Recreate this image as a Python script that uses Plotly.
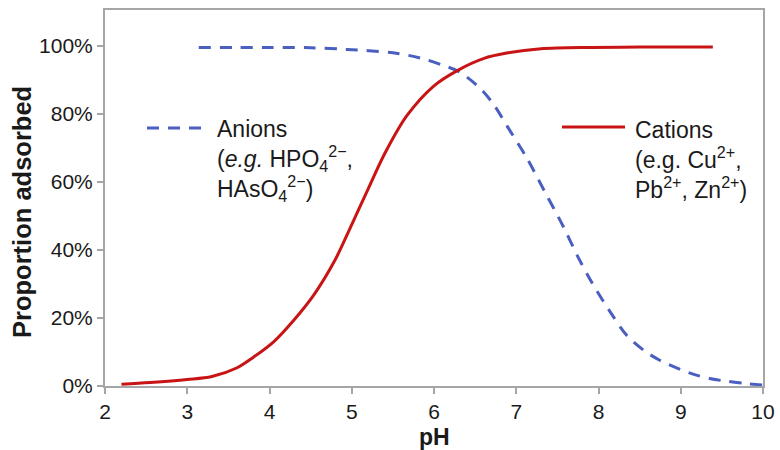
import plotly.graph_objects as go

# Data
cation_ph = [2.2, 2.55, 3.0, 3.3, 3.6, 3.8, 4.05, 4.3, 4.55, 4.8, 5.0, 5.2, 5.4,
             5.67, 6.0, 6.3, 6.6, 6.9, 7.3, 7.9, 8.5, 9.39]
cation_pct = [0.5, 1.0, 1.9, 2.8, 5.3, 8.4, 13.0, 19.5, 27.2, 37.2, 47.5, 58, 68.3,
              79.5, 88.3, 93, 96.3, 98, 99.2, 99.6, 99.7, 99.7]

anion_ph = [3.14, 3.6, 4.0, 4.5, 4.94, 5.5, 5.83, 6.1, 6.3, 6.56, 6.72, 6.9,
            7.13, 7.35, 7.57, 7.75, 7.93, 8.15, 8.34, 8.55, 8.75, 9.0, 9.15,
            9.35, 9.56, 9.8, 10.0]
anion_pct = [99.6, 99.6, 99.6, 99.5, 99.0, 98.0, 96.5, 94.4, 92.5, 87.6, 83,
             76, 67, 57, 47, 38, 30, 21.5, 15, 10.5, 7.5, 4.8, 3.5,
             2.2, 1.4, 0.7, 0.3]

x_ticks = [2, 3, 4, 5, 6, 7, 8, 9, 10]
y_ticks = [0, 20, 40, 60, 80, 100]
y_tick_labels = ["0%", "20%", "40%", "60%", "80%", "100%"]

anion_label = ["Anions", "(<i>e.g.</i> HPO<sub>4</sub><sup>2−</sup>,",
               "HAsO<sub>4</sub><sup>2−</sup>)"]
cation_label = ["Cations", "(e.g. Cu<sup>2+</sup>,",
                "Pb<sup>2+</sup>, Zn<sup>2+</sup>)"]

BLUE = "#4a5fbf"
RED = "#c81414"
GRAY = "#a6a6a6"
FONT = "Liberation Sans, Arial, sans-serif"

fig = go.Figure()
fig.add_trace(go.Scatter(x=anion_ph, y=anion_pct, mode="lines",
                         line=dict(color=BLUE, width=3, dash="12px,9px",
                                   shape="spline", smoothing=0.9),
                         showlegend=False, hoverinfo="skip"))
fig.add_trace(go.Scatter(x=cation_ph, y=cation_pct, mode="lines",
                         line=dict(color=RED, width=3, shape="spline",
                                   smoothing=0.9),
                         showlegend=False, hoverinfo="skip"))

L, R, T, B = 105, 17, 10, 64
W, H = 780, 450
pw, ph = W - L - R, H - T - B


def px(xp):
    return (xp - L) / pw


def py(yp):
    return (H - B - yp) / ph


annotations = [
    dict(x=px(215), y=py(160), xref="paper", yref="paper",
         text="<br>".join(anion_label), showarrow=False, xanchor="left",
         yanchor="middle", align="left",
         font=dict(size=23, color="#1a1a1a", family=FONT)),
    dict(x=px(633), y=py(160), xref="paper", yref="paper",
         text="<br>".join(cation_label), showarrow=False, xanchor="left",
         yanchor="middle", align="left",
         font=dict(size=23, color="#1a1a1a", family=FONT)),
    dict(x=0.5, y=py(437), xref="paper", yref="paper", text="<b>pH</b>",
         showarrow=False, xanchor="center", yanchor="middle",
         font=dict(size=23, color="#1a1a1a", family=FONT)),
    dict(x=px(22), y=py(212), xref="paper", yref="paper",
         text="<b>Proportion adsorbed</b>", textangle=-90,
         showarrow=False, xanchor="center", yanchor="middle",
         font=dict(size=25.5, color="#1a1a1a", family=FONT)),
]

shapes = [
    dict(type="line", xref="paper", yref="paper", x0=px(147), x1=px(205),
         y0=py(128), y1=py(128), line=dict(color=BLUE, width=3, dash="12px,9px")),
    dict(type="line", xref="paper", yref="paper", x0=px(562), x1=px(625),
         y0=py(127), y1=py(127), line=dict(color=RED, width=3)),
]

fig.update_layout(
    width=W, height=H,
    margin=dict(l=L, r=R, t=T, b=B, pad=0, autoexpand=False),
    paper_bgcolor="white", plot_bgcolor="white",
    annotations=annotations, shapes=shapes,
    font=dict(family=FONT, color="#1a1a1a"),
    xaxis=dict(range=[2, 10], tickvals=x_ticks, showgrid=False, zeroline=False,
               automargin=False,
               showline=True, linecolor=GRAY, linewidth=2, mirror=True,
               ticks="outside", ticklen=6, tickcolor=GRAY, tickwidth=1.5,
               tickfont=dict(size=21, color="#1a1a1a")),
    yaxis=dict(range=[0, 110.6], tickvals=y_ticks, ticktext=y_tick_labels,
               showgrid=False, zeroline=False, automargin=False,
               showline=True, linecolor=GRAY, linewidth=2, mirror=True,
               ticks="outside", ticklen=6, tickcolor=GRAY, tickwidth=1.5,
               tickfont=dict(size=21, color="#1a1a1a")),
)

fig.write_html("out.html")
